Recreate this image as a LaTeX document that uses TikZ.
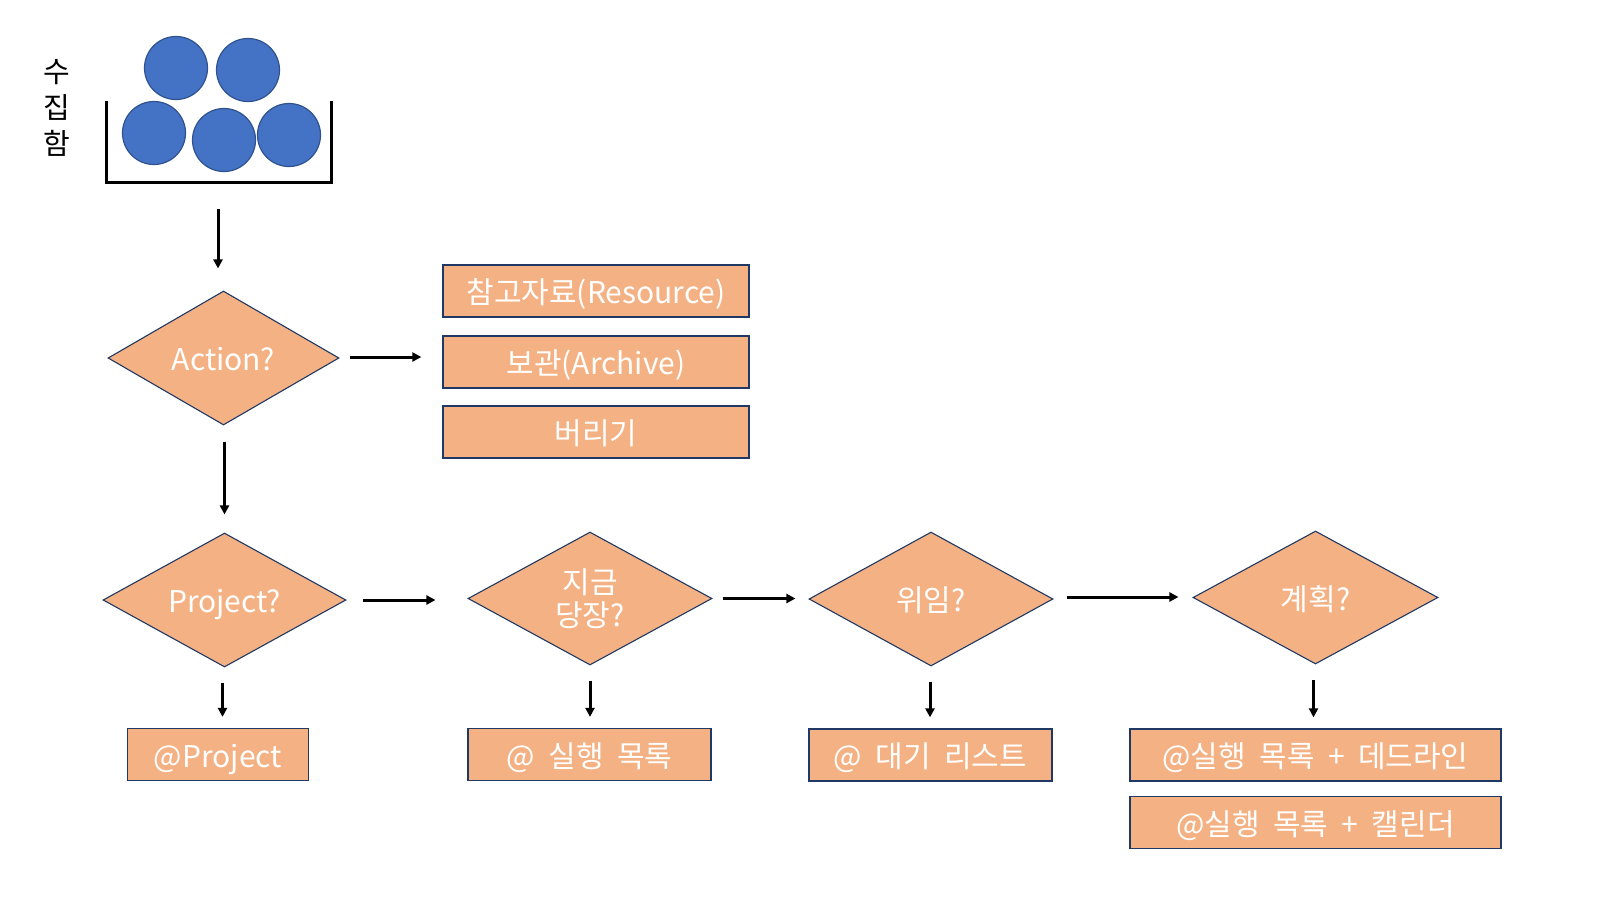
\documentclass[tikz,border=0pt]{standalone}
\usepackage{fontspec}
\setmainfont[WordSpace=2]{Noto Sans CJK KR}
\usetikzlibrary{shapes.geometric,arrows.meta}
\definecolor{boxfill}{HTML}{F4B183}
\definecolor{boxline}{HTML}{203864}
\definecolor{ballfill}{HTML}{4472C4}
\definecolor{ballline}{HTML}{2F528F}
\tikzset{
  txt/.style={text=white,font=\fontsize{30}{36}\selectfont},
  oneline/.style={text height=25pt,text depth=0pt},
  dia/.style={diamond,aspect=1.8,draw=boxline,line width=1.1pt,fill=boxfill,inner sep=0pt,txt,align=center},
  obox/.style={rectangle,draw=boxline,line width=1.3pt,fill=boxfill,inner sep=0pt,txt,oneline,minimum height=52pt},
  ball/.style={circle,draw=ballline,line width=1.2pt,fill=ballfill,minimum size=63pt,inner sep=0pt},
  arr/.style={line width=3pt,-{Triangle[length=9pt,width=9pt]}},
}
\begin{document}
\begin{tikzpicture}[x=1pt,y=-1pt]
\useasboundingbox (0,0) rectangle (1600,900);
% inbox
\node[font=\fontsize{29}{34}\selectfont,align=center,inner sep=0pt] (lbl) at (57,108) {수\\[2pt]집\\[2pt]함};
\node[ball] (b1) at (176,68) {};
\node[ball] (b2) at (248,70) {};
\node[ball] (b3) at (154,133) {};
\node[ball] (b4) at (224,140) {};
\node[ball] (b5) at (289,135) {};
\draw[line width=3pt] (106,101) |- (331,182) -- (331,101);
\coordinate (binb) at (218,182);
% row 1
\node[dia,oneline,minimum width=231pt,minimum height=134pt] (act) at (223.5,358) {Action?};
\node[obox,minimum width=306pt] (res) at (596,291) {참고자료(Resource)};
\node[obox,minimum width=306pt] (arch) at (596,362) {보관(Archive)};
\node[obox,minimum width=306pt] (bin) at (596,432) {버리기};
% row 2
\node[dia,oneline,minimum width=243pt,minimum height=134pt] (proj) at (224.5,600) {Project?};
\node[dia,minimum width=244pt,minimum height=133pt] (now) at (590,598.5) {지금\\[-3pt]당장?};
\node[dia,oneline,minimum width=244pt,minimum height=134pt] (del) at (931,599) {위임?};
\node[dia,oneline,minimum width=245pt,minimum height=133pt] (plan) at (1315.5,597.5) {계획?};
% row 3
\node[obox,minimum width=181pt] (pj) at (218,754.5) {@Project};
\node[obox,minimum width=243pt] (todo) at (589.5,754.5) {@ 실행 목록};
\node[obox,minimum width=243pt] (wait) at (930.5,755) {@ 대기 리스트};
\node[obox,minimum width=371pt] (dl) at (1315.5,755) {@실행 목록 + 데드라인};
\node[obox,minimum width=371pt] (cal) at (1315.5,822.5) {@실행 목록 + 캘린더};
% arrows
\draw[arr] ([yshift=-27pt]binb) -- ([yshift=22pt]act.north -| binb);
\draw[arr] ([xshift=10pt,yshift=1pt]act.east) -- ([xshift=-21pt,yshift=1pt]act.east -| arch.west);
\draw[arr] ([xshift=1pt,yshift=-16pt]act.south) -- ([xshift=1pt,yshift=18pt]act.south |- proj.north);
\draw[arr] ([xshift=16pt]proj.east) -- ([xshift=-32pt]proj.east -| now.west);
\draw[arr] ([xshift=10pt]now.east) -- ([xshift=-13pt]now.east -| del.west);
\draw[arr] ([xshift=13pt,yshift=2pt]del.east) -- ([xshift=-14pt,yshift=2pt]del.east -| plan.west);
\draw[arr] ([xshift=-2pt,yshift=-15pt]proj.south) -- ([xshift=-2pt,yshift=11pt]proj.south |- pj.north);
\draw[arr] ([yshift=-15pt]now.south) -- ([yshift=11pt]now.south |- todo.north);
\draw[arr] ([xshift=-1pt,yshift=-15pt]del.south) -- ([xshift=-1pt,yshift=11pt]del.south |- wait.north);
\draw[arr] ([xshift=-2pt,yshift=-15pt]plan.south) -- ([xshift=-2pt,yshift=11pt]plan.south |- dl.north);
\end{tikzpicture}
\end{document}
